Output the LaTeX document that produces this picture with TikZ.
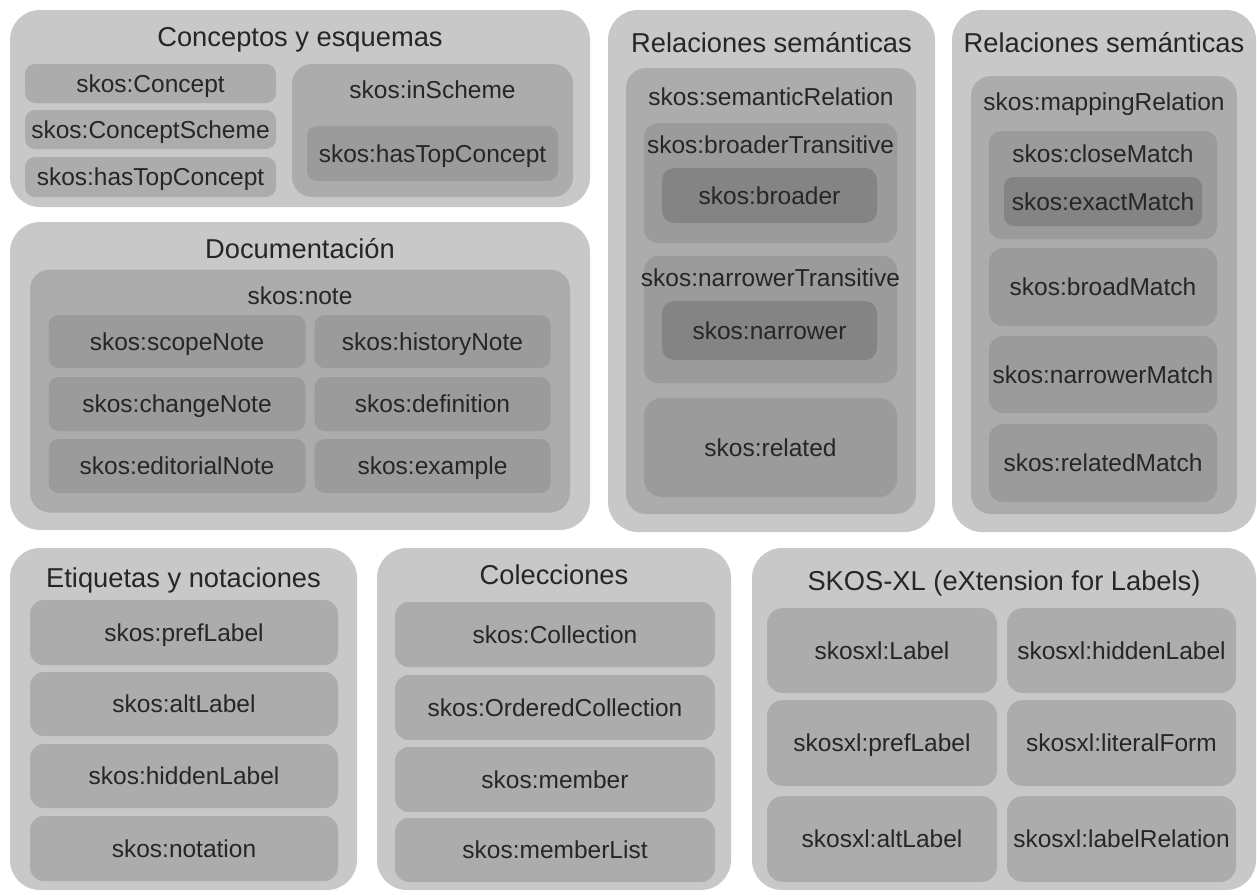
\documentclass[tikz,border=0pt]{standalone}
\usepackage{fontspec}
\setmainfont{Liberation Sans}
\usepackage{tikz}
\usetikzlibrary{positioning}
\definecolor{gris1}{RGB}{200,200,200}
\definecolor{gris2}{RGB}{172,172,172}
\definecolor{gris3}{RGB}{155,155,155}
\definecolor{gris4}{RGB}{132,132,132}
\definecolor{tinta}{RGB}{38,38,38}
\tikzstyle{grupo} = [rectangle, rounded corners=30pt, fill=gris1, inner sep=0pt, outer sep=0pt]
\tikzstyle{caja} = [rectangle, rounded corners=20pt, fill=gris2, inner sep=0pt, outer sep=0pt]
\tikzstyle{hoja} = [rectangle, rounded corners=10pt, fill=gris2, inner sep=0pt, outer sep=0pt, text=tinta, font=\fontsize{24.5}{28}\selectfont, text height=17.5pt, text depth=0pt]
\tikzstyle{titulo} = [text=tinta, inner sep=0pt, font=\fontsize{27.3}{30}\selectfont, text height=19.5pt, text depth=0pt]
\tikzstyle{rotulo} = [text=tinta, inner sep=0pt, font=\fontsize{24.5}{28}\selectfont, text height=17.5pt, text depth=0pt]

\begin{document}
\begin{tikzpicture}[x=1pt, y=-1pt]
\useasboundingbox (0,0) rectangle (1257,894);
% Conceptos y esquemas
\node (c0) [grupo, minimum width=580, minimum height=197] at (300,108.5) {};
\node (c0t) [titulo] at (300,37) {Conceptos y esquemas};
\node (c1) [hoja, minimum width=251, minimum height=39] at (150.5,83.5) {skos:Concept};
\node (c2) [hoja, minimum width=251, minimum height=39] at (150.5,129.5) {skos:ConceptScheme};
\node (c3) [hoja, minimum width=251, minimum height=40] at (150.5,177) {skos:hasTopConcept};
\node (c4) [caja, minimum width=281, minimum height=133] at (432.5,130.5) {};
\node (c4t) [rotulo] at (432.5,90) {skos:inScheme};
\node (c5) [hoja, fill=gris3, minimum width=251, minimum height=55] at (432.5,153.5) {skos:hasTopConcept};
% Documentacion
\node (d0) [grupo, minimum width=580, minimum height=308] at (300,376) {};
\node (d0t) [titulo] at (300,249) {Documentación};
\node (d1) [caja, minimum width=540, minimum height=243] at (300,391) {};
\node (d1t) [rotulo] at (300,295.5) {skos:note};
\node (d2) [hoja, fill=gris3, minimum width=257, minimum height=53] at (177,341.5) {skos:scopeNote};
\node (d3) [hoja, fill=gris3, minimum width=236, minimum height=53] at (432.5,341.5) {skos:historyNote};
\node (d4) [hoja, fill=gris3, minimum width=257, minimum height=54] at (177,404) {skos:changeNote};
\node (d5) [hoja, fill=gris3, minimum width=236, minimum height=54] at (432.5,404) {skos:definition};
\node (d6) [hoja, fill=gris3, minimum width=257, minimum height=54] at (177,466) {skos:editorialNote};
\node (d7) [hoja, fill=gris3, minimum width=236, minimum height=54] at (432.5,466) {skos:example};
% Relaciones semanticas
\node (r0) [grupo, minimum width=327, minimum height=522] at (771.5,271) {};
\node (r0t) [titulo] at (771.5,42.5) {Relaciones semánticas};
\node (r1) [caja, minimum width=290, minimum height=446] at (771,291) {};
\node (r1t) [rotulo] at (771,97) {skos:semanticRelation};
\node (r2) [caja, fill=gris3, rounded corners=14pt, minimum width=253, minimum height=120] at (770.5,183) {};
\node (r2t) [rotulo] at (770.5,145) {skos:broaderTransitive};
\node (r3) [hoja, fill=gris4, rounded corners=12pt, minimum width=215, minimum height=55] at (769.5,195.5) {skos:broader};
\node (r4) [caja, fill=gris3, rounded corners=14pt, minimum width=253, minimum height=127] at (770.5,319.5) {};
\node (r4t) [rotulo] at (770.5,278) {skos:narrowerTransitive};
\node (r5) [hoja, fill=gris4, rounded corners=12pt, minimum width=215, minimum height=59] at (769.5,330.5) {skos:narrower};
\node (r6) [hoja, fill=gris3, rounded corners=18pt, minimum width=253, minimum height=99] at (770.5,447.5) {skos:related};
% Relaciones semanticas (mapping)
\node (m0) [grupo, minimum width=304, minimum height=522] at (1104,271) {};
\node (m0t) [titulo] at (1104,42.5) {Relaciones semánticas};
\node (m1) [caja, minimum width=266, minimum height=438] at (1104,295) {};
\node (m1t) [rotulo] at (1104,101.5) {skos:mappingRelation};
\node (m2) [caja, fill=gris3, rounded corners=12pt, minimum width=228, minimum height=108] at (1103,185) {};
\node (m2t) [rotulo] at (1103,153.5) {skos:closeMatch};
\node (m3) [hoja, fill=gris4, minimum width=198, minimum height=49] at (1103,201.5) {skos:exactMatch};
\node (m4) [hoja, fill=gris3, rounded corners=14pt, minimum width=228, minimum height=78] at (1103,287) {skos:broadMatch};
\node (m5) [hoja, fill=gris3, rounded corners=14pt, minimum width=228, minimum height=77] at (1103,374.5) {skos:narrowerMatch};
\node (m6) [hoja, fill=gris3, rounded corners=14pt, minimum width=228, minimum height=78] at (1103,463) {skos:relatedMatch};
% Etiquetas y notaciones
\node (e0) [grupo, minimum width=347, minimum height=342] at (183.5,719) {};
\node (e0t) [titulo] at (183.5,578) {Etiquetas y notaciones};
\node (e1) [hoja, rounded corners=14pt, minimum width=308, minimum height=65] at (184,632.5) {skos:prefLabel};
\node (e2) [hoja, rounded corners=14pt, minimum width=308, minimum height=64] at (184,704) {skos:altLabel};
\node (e3) [hoja, rounded corners=14pt, minimum width=308, minimum height=64] at (184,776) {skos:hiddenLabel};
\node (e4) [hoja, rounded corners=14pt, minimum width=308, minimum height=65] at (184,848.5) {skos:notation};
% Colecciones
\node (k0) [grupo, minimum width=354, minimum height=342] at (554,719) {};
\node (k0t) [titulo] at (554,575) {Colecciones};
\node (k1) [hoja, rounded corners=14pt, minimum width=320, minimum height=65] at (555,634.5) {skos:Collection};
\node (k2) [hoja, rounded corners=14pt, minimum width=320, minimum height=65] at (555,707.5) {skos:OrderedCollection};
\node (k3) [hoja, rounded corners=14pt, minimum width=320, minimum height=65] at (555,779.5) {skos:member};
\node (k4) [hoja, rounded corners=14pt, minimum width=320, minimum height=64] at (555,850) {skos:memberList};
% SKOS-XL
\node (x0) [grupo, minimum width=504, minimum height=342] at (1004,719) {};
\node (x0t) [titulo] at (1004,581) {SKOS-XL (eXtension for Labels)};
\node (x1) [hoja, rounded corners=16pt, minimum width=230, minimum height=85] at (882,650.5) {skosxl:Label};
\node (x2) [hoja, rounded corners=16pt, minimum width=229, minimum height=85] at (1121.5,650.5) {skosxl:hiddenLabel};
\node (x3) [hoja, rounded corners=16pt, minimum width=230, minimum height=86] at (882,743) {skosxl:prefLabel};
\node (x4) [hoja, rounded corners=16pt, minimum width=229, minimum height=86] at (1121.5,743) {skosxl:literalForm};
\node (x5) [hoja, rounded corners=16pt, minimum width=230, minimum height=86] at (882,839) {skosxl:altLabel};
\node (x6) [hoja, rounded corners=16pt, minimum width=229, minimum height=86] at (1121.5,839) {skosxl:labelRelation};
\end{tikzpicture}
\end{document}
